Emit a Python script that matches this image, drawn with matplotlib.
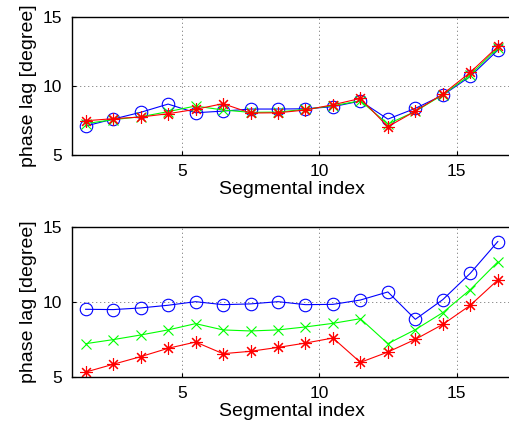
import matplotlib
matplotlib.use("Agg")
import matplotlib.pyplot as plt
import numpy as np

plt.rcParams['font.family'] = ['Liberation Sans', 'DejaVu Sans']

segments = [1.5, 2.5, 3.5, 4.5, 5.5, 6.5, 7.5, 8.5, 9.5, 10.5, 11.5, 12.5, 13.5, 14.5, 15.5, 16.5]

top_blue = [7.08, 7.58, 8.07, 8.67, 8.04, 8.16, 8.31, 8.31, 8.33, 8.48, 8.89, 7.58, 8.36, 9.32, 10.68, 12.58]
top_green = [7.25, 7.54, 7.75, 8.12, 8.53, 8.24, 8.07, 8.09, 8.29, 8.55, 8.91, 7.22, 8.14, 9.35, 10.80, 12.75]
top_red = [7.46, 7.61, 7.73, 7.97, 8.29, 8.70, 8.02, 8.04, 8.24, 8.62, 9.08, 7.03, 8.16, 9.40, 10.97, 12.85]

bot_blue = [9.51, 9.49, 9.60, 9.78, 10.02, 9.82, 9.87, 10.02, 9.82, 9.84, 10.13, 10.67, 8.84, 10.16, 11.92, 14.04]
bot_green = [7.21, 7.48, 7.79, 8.13, 8.55, 8.13, 8.06, 8.13, 8.33, 8.57, 8.88, 7.21, 8.15, 9.29, 10.83, 12.68]
bot_red = [5.31, 5.83, 6.34, 6.90, 7.32, 6.54, 6.70, 6.96, 7.25, 7.59, 5.96, 6.65, 7.50, 8.50, 9.78, 11.47]

xticks = [5, 10, 15]
yticks = [5, 10, 15]
xlabel = "Segmental index"
ylabel = "phase lag [degree]"

fig = plt.figure(figsize=(5.10, 4.32), dpi=100)
ax1 = fig.add_axes([0.141, 0.642, 0.862, 0.319])
ax2 = fig.add_axes([0.141, 0.128, 0.862, 0.346])

star = (8, 2, 0)
for ax, b, g, r in [(ax1, top_blue, top_green, top_red), (ax2, bot_blue, bot_green, bot_red)]:
    ax.plot(segments, b, color='blue', marker='o', markersize=9, markerfacecolor='none',
            markeredgewidth=0.8, linewidth=0.8)
    ax.plot(segments, g, color='#00ff00', marker='x', markersize=7, markeredgewidth=0.8, linewidth=0.8)
    ax.plot(segments, r, color='red', marker=star, markersize=9, markeredgewidth=0.8, linewidth=0.8)
    ax.set_xlim(1, 17)
    ax.set_ylim(5, 15)
    ax.set_xticks(xticks)
    ax.set_yticks(yticks)
    ax.grid(True, color='black', linestyle=(0, (0.8, 4)), linewidth=0.6)
    ax.tick_params(direction='in', length=3, width=0.8, labelsize=12.5, pad=7)
    for s in ax.spines.values():
        s.set_linewidth(1.0)
    ax.set_xlabel(xlabel, fontsize=14, labelpad=1)
    ax.set_ylabel(ylabel, fontsize=14, labelpad=4)

fig.savefig("out.png", dpi=100)
